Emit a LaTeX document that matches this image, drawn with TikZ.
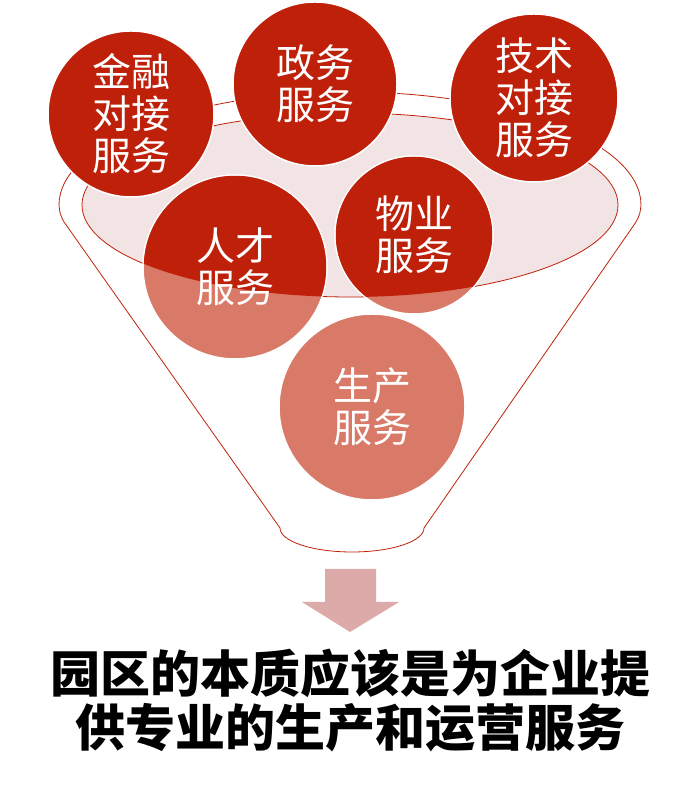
\documentclass[tikz,border=0pt]{standalone}
\usepackage{fontspec}
\newfontfamily\cjk{Noto Sans CJK SC}
\newfontfamily\cjkblack{Noto Sans CJK SC Black}
\definecolor{darkred}{RGB}{190,32,10}
\definecolor{salmon}{RGB}{217,122,104}
\definecolor{rimpink}{RGB}{242,228,228}
\definecolor{arrowpink}{RGB}{221,170,170}
\begin{document}
\begin{tikzpicture}[x=1pt,y=1pt,
  ball/.style={circle, minimum size=#1, inner sep=0pt, draw=white, line width=1.5pt},
  balltext/.style={text=white, align=center, inner sep=0pt, font=\cjk\fontsize{39}{42}\selectfont},
  funnelline/.style={draw=darkred, line width=0.8pt},
]
\useasboundingbox (0,0) rectangle (695,786);
% funnel outline
\draw[funnelline] (280,258) -- (64,564) .. controls (60,572) .. (59,581)
  arc[start angle=180, end angle=0, x radius=291, y radius=113]
  .. controls (640,572) .. (636,564) -- (424,258)
  arc[start angle=0, end angle=-180, x radius=72, y radius=24] -- cycle;
% inner rim
\draw[funnelline, fill=rimpink] (350,581) ellipse [x radius=268, y radius=92];
% top balls
\node[ball=166pt, fill=darkred] (jr) at (131,672) {};
\node[ball=164pt, fill=darkred] (zw) at (315,702) {};
\node[ball=168pt, fill=darkred] (js) at (534,688) {};
% two-tone balls
\node[ball=184pt, fill=salmon] (rc) at (235,519) {};
\node[ball=158pt, fill=salmon] (wy) at (414,551) {};
\begin{scope}
  \clip (350,581) ellipse [x radius=268, y radius=92];
  \fill[darkred] (rc.center) circle [radius=91.2];
  \fill[darkred] (wy.center) circle [radius=78.2];
\end{scope}
\node[ball=186pt, fill=salmon] (sc) at (372,379) {};
% texts
\node[balltext] (jrt) at (jr.center) {金融\\对接\\服务};
\node[balltext] (zwt) at (zw.center) {政务\\服务};
\node[balltext] (jst) at (js.center) {技术\\对接\\服务};
\node[balltext] (rct) at (rc.center) {人才\\服务};
\node[balltext] (wyt) at (wy.center) {物业\\服务};
\node[balltext] (sct) at (sc.center) {生产\\服务};
% arrow
\fill[arrowpink] (325,217) -- (376,217) -- (376,184) -- (399,184) -- (350,154) -- (302,184) -- (325,184) -- cycle;
% conclusion
\node[align=center, inner sep=0pt, font=\cjkblack\fontsize{50}{54}\selectfont] (concl) at (350,85) {园区的本质应该是为企业提\\供专业的生产和运营服务};
\end{tikzpicture}
\end{document}
